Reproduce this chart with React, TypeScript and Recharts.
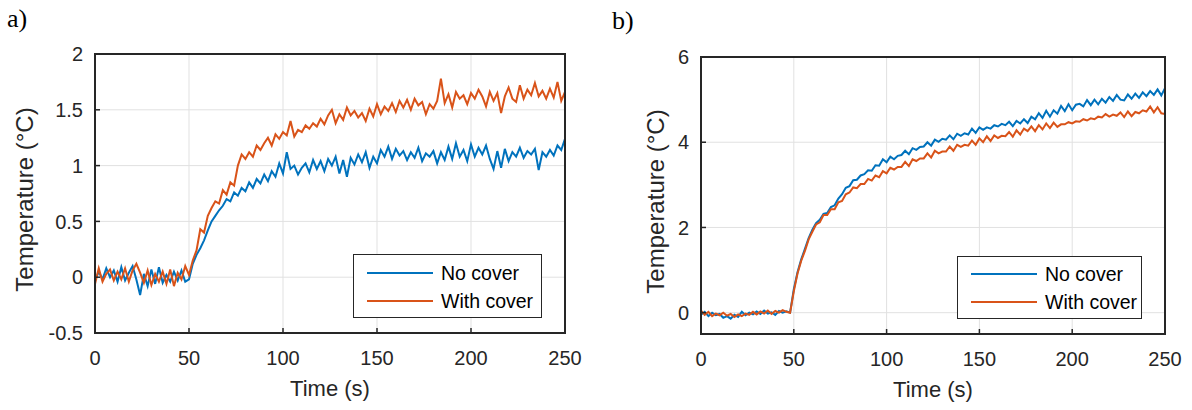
import React from "react";
import { LineChart, Line, XAxis, YAxis, CartesianGrid, Legend, Label } from "recharts";

// sample times (s)
const TIME = [
  0, 2, 4, 6, 8, 10, 12, 14, 16, 18,
  20, 22, 24, 26, 28, 30, 32, 34, 36, 38,
  40, 42, 44, 46, 48, 50, 52, 54, 56, 58,
  60, 62, 64, 66, 68, 70, 72, 74, 76, 78,
  80, 82, 84, 86, 88, 90, 92, 94, 96, 98,
  100, 102, 104, 106, 108, 110, 112, 114, 116, 118,
  120, 122, 124, 126, 128, 130, 132, 134, 136, 138,
  140, 142, 144, 146, 148, 150, 152, 154, 156, 158,
  160, 162, 164, 166, 168, 170, 172, 174, 176, 178,
  180, 182, 184, 186, 188, 190, 192, 194, 196, 198,
  200, 202, 204, 206, 208, 210, 212, 214, 216, 218,
  220, 222, 224, 226, 228, 230, 232, 234, 236, 238,
  240, 242, 244, 246, 248, 250,
];

// panel a)
const A_NO_COVER = [
  -0.03, 0.05, -0.02, 0.08, 0.0, 0.06, -0.04, 0.09, -0.03, 0.04,
  0.1, -0.02, -0.16, 0.03, -0.08, 0.07, -0.06, 0.09, -0.05, 0.02,
  -0.04, 0.05, -0.03, 0.06, -0.04, -0.02, 0.12, 0.2, 0.26, 0.33,
  0.42, 0.5, 0.55, 0.6, 0.64, 0.7, 0.68, 0.76, 0.73, 0.8,
  0.77, 0.85, 0.8, 0.88, 0.84, 0.92, 0.86, 0.95, 0.9, 1.02,
  0.93, 1.12, 0.97, 1.0, 0.92, 0.98, 1.02, 0.94, 1.05, 0.97,
  1.04, 0.95, 1.06, 1.0, 1.08, 0.93, 1.05, 0.9, 1.07, 1.01,
  1.1, 1.03, 1.12, 0.98, 1.08, 1.02, 1.14, 1.08, 1.17, 1.06,
  1.15, 1.09, 1.13, 1.05, 1.12, 1.07, 1.16, 1.04, 1.11, 1.08,
  1.13, 1.02, 1.12, 1.05, 1.17, 1.06, 1.2, 1.08, 1.14, 1.04,
  1.19, 1.08, 1.16, 1.1, 1.18, 1.06, 0.97, 1.13, 0.98, 1.15,
  1.04, 1.12, 1.08, 1.16, 1.07, 1.13, 1.1, 1.15, 0.96, 1.12,
  1.08, 1.14, 1.09, 1.18, 1.14, 1.24,
];
const A_WITH_COVER = [
  -0.06, 0.08, -0.04, 0.03, 0.07, -0.03, 0.05, -0.02, 0.08, -0.04,
  0.06, 0.12, 0.04, -0.05, 0.06, -0.07, 0.03, -0.04, 0.05, -0.06,
  0.07, -0.08, 0.04, -0.02, 0.1, 0.02, 0.15, 0.24, 0.43, 0.4,
  0.55, 0.62, 0.68, 0.66, 0.78, 0.74, 0.85, 0.82, 1.0, 1.1,
  1.06, 1.12, 1.08, 1.18, 1.14, 1.2, 1.25, 1.18, 1.28, 1.24,
  1.3, 1.27, 1.4, 1.26, 1.32, 1.3, 1.36, 1.33, 1.38, 1.35,
  1.42, 1.37, 1.45, 1.5, 1.38, 1.46, 1.41, 1.52, 1.45, 1.49,
  1.43, 1.47, 1.4, 1.51, 1.44, 1.55, 1.46, 1.53, 1.49, 1.56,
  1.48, 1.58, 1.52, 1.59, 1.5, 1.6, 1.54, 1.57, 1.46, 1.55,
  1.51, 1.58, 1.78, 1.56, 1.64, 1.52, 1.66, 1.6, 1.63, 1.55,
  1.65, 1.6, 1.68, 1.62, 1.53, 1.66, 1.58, 1.65, 1.47, 1.62,
  1.7, 1.6, 1.57, 1.72, 1.6, 1.68, 1.63, 1.74, 1.62, 1.67,
  1.6, 1.69, 1.61, 1.75, 1.58, 1.66,
];

// panel b)
const B_NO_COVER = [
  -0.05, 0.02, -0.08, 0.0, -0.06, -0.03, -0.12, -0.08, -0.14, -0.05,
  -0.1, 0.02, -0.06, 0.0, -0.04, 0.03, -0.03, 0.05, -0.02, 0.01,
  -0.05, 0.04, 0.0, 0.03, 0.0, 0.55, 0.95, 1.25, 1.5, 1.75,
  1.95, 2.1, 2.18, 2.32, 2.34, 2.48, 2.52, 2.68, 2.78, 2.93,
  2.97, 3.11, 3.12, 3.22, 3.25, 3.34, 3.33, 3.46, 3.45, 3.6,
  3.53, 3.66, 3.6, 3.68, 3.7, 3.8, 3.72, 3.86, 3.82, 3.89,
  3.9, 4.0, 3.92, 4.06, 4.01, 4.08, 4.06, 4.16, 4.07, 4.2,
  4.15, 4.21, 4.18, 4.32, 4.22, 4.35, 4.29, 4.35, 4.32, 4.4,
  4.37, 4.43, 4.4, 4.48, 4.38, 4.5, 4.44, 4.54, 4.45, 4.6,
  4.54, 4.68, 4.57, 4.74, 4.6, 4.75, 4.67, 4.85, 4.73, 4.89,
  4.75, 4.88, 4.9, 4.84, 4.99, 4.87, 5.0, 4.89, 5.02, 4.93,
  5.06, 4.97, 5.11, 5.0, 4.98, 5.12, 5.02, 5.14, 5.04, 5.17,
  5.08, 5.2, 5.11, 5.24, 5.1, 5.27,
];
const B_WITH_COVER = [
  0.05, -0.05, 0.02, -0.08, -0.02, -0.06, 0.0, -0.07, -0.03, -0.1,
  -0.04, -0.08, -0.02, -0.05, 0.02, -0.04, 0.03, -0.02, 0.05, -0.03,
  0.04, 0.0, 0.06, 0.02, 0.0, 0.5, 0.92, 1.22, 1.45, 1.72,
  1.9, 2.07, 2.12, 2.29, 2.29, 2.43, 2.43, 2.59, 2.62, 2.78,
  2.82, 2.94, 2.92, 3.02, 3.02, 3.14, 3.1, 3.22, 3.18, 3.32,
  3.27, 3.4, 3.36, 3.42, 3.42, 3.54, 3.44, 3.6, 3.56, 3.62,
  3.62, 3.74, 3.64, 3.8, 3.74, 3.78, 3.78, 3.9, 3.8, 3.94,
  3.89, 3.94, 3.92, 4.04, 3.94, 4.09, 4.0, 4.14, 4.03, 4.16,
  4.1, 4.15, 4.14, 4.24, 4.13, 4.28, 4.18, 4.32, 4.26, 4.37,
  4.26, 4.4, 4.3, 4.44, 4.33, 4.46, 4.36, 4.42, 4.42, 4.47,
  4.44, 4.49, 4.48, 4.54, 4.51, 4.56, 4.54, 4.6, 4.58, 4.66,
  4.6, 4.65, 4.62, 4.7, 4.59, 4.72, 4.61, 4.71, 4.68, 4.75,
  4.72, 4.84, 4.7, 4.82, 4.68, 4.66,
];

const X_TICKS = [0, 50, 100, 150, 200, 250];
const A_Y_TICKS = [-0.5, 0, 0.5, 1, 1.5, 2];
const B_Y_TICKS = [0, 2, 4, 6];
const SERIES = ["No cover", "With cover"];

const BLUE = "#0072BD";
const ORANGE = "#D95319";
const INK = "#262626";
const GRID = "#e1e1e1";
const FONT = '"Liberation Sans", Arial, Helvetica, sans-serif';

const W = 596;
const H = 410;
const X_AXIS_H = 64;
const TOP_AXIS_H = 10;
const Y_AXIS_W = 60;
const RIGHT_AXIS_W = 10;

const axisLine = { stroke: INK, strokeWidth: 2 };
const tickLine = { stroke: INK, strokeWidth: 1.5 };

function LegendBox({ payload, pad }: any) {
  return (
    <div
      style={{
        boxSizing: "border-box",
        width: "100%",
        height: "100%",
        border: `1px solid ${INK}`,
        background: "#fff",
        paddingTop: pad,
        fontFamily: FONT,
        fontSize: 19.5,
        color: "#000",
      }}
    >
      {(payload || []).map((p: any) => (
        <div key={p.value} style={{ display: "flex", alignItems: "center", height: 28 }}>
          <span style={{ width: 66, height: 2, background: p.color, marginLeft: 13, marginRight: 8 }} />
          <span>{p.value}</span>
        </div>
      ))}
    </div>
  );
}

function YTitle({ viewBox, gap }: any) {
  const x = viewBox.x + viewBox.width - gap;
  const y = viewBox.y + viewBox.height / 2 + 6;
  return (
    <text
      x={x}
      y={y}
      transform={`rotate(-90, ${x}, ${y})`}
      textAnchor="middle"
      fontFamily={FONT}
      fontSize={24}
      fill={INK}
    >
      Temperature (°C)
    </text>
  );
}

function Panel({ noCover, withCover, yDomain, yTicks, margin, titleGap, legendPos, legendPad }: any) {
  const data = TIME.map((t, i) => ({ t, [SERIES[0]]: noCover[i], [SERIES[1]]: withCover[i] }));
  const tick = { fontSize: 20, fill: INK, fontFamily: FONT };
  // plot box (MATLAB "box on") drawn as an overlay frame round the plot area
  const frame = {
    left: margin.left + Y_AXIS_W - 1,
    top: margin.top + TOP_AXIS_H - 1,
    width: W - margin.left - margin.right - Y_AXIS_W - RIGHT_AXIS_W + 2,
    height: H - margin.top - margin.bottom - X_AXIS_H - TOP_AXIS_H + 2,
  };
  return (
    <div style={{ position: "relative", width: W, height: H }}>
      <LineChart width={W} height={H} data={data} margin={margin}>
        <CartesianGrid stroke={GRID} strokeWidth={1} />
        <Line dataKey={SERIES[0]} name={SERIES[0]} stroke={BLUE} strokeWidth={2} dot={false} isAnimationActive={false} />
        <Line dataKey={SERIES[1]} name={SERIES[1]} stroke={ORANGE} strokeWidth={2} dot={false} isAnimationActive={false} />
        <XAxis
          dataKey="t"
          type="number"
          domain={[0, 250]}
          ticks={X_TICKS}
          allowDataOverflow
          height={X_AXIS_H}
          axisLine={axisLine}
          tickLine={tickLine}
          tickSize={-5}
          tickMargin={23}
          tick={tick}
        >
          <Label value="Time (s)" position="insideBottom" offset={1} fontSize={22} fontFamily={FONT} fill={INK} />
        </XAxis>
        <XAxis
          xAxisId="top"
          orientation="top"
          type="number"
          domain={[0, 250]}
          ticks={X_TICKS}
          allowDataOverflow
          height={TOP_AXIS_H}
          axisLine={axisLine}
          tickLine={tickLine}
          tickSize={-5}
          tick={false}
        />
        <YAxis
          type="number"
          domain={yDomain}
          ticks={yTicks}
          allowDataOverflow
          width={Y_AXIS_W}
          axisLine={axisLine}
          tickLine={tickLine}
          tickSize={-5}
          tickMargin={17}
          tick={tick}
          label={<YTitle gap={titleGap} />}
        />
        <YAxis
          yAxisId="right"
          orientation="right"
          type="number"
          domain={yDomain}
          ticks={yTicks}
          allowDataOverflow
          width={RIGHT_AXIS_W}
          axisLine={axisLine}
          tickLine={tickLine}
          tickSize={-5}
          tick={false}
        />
        <Legend
          layout="vertical"
          align="center"
          verticalAlign="middle"
          wrapperStyle={{ ...legendPos }}
          content={<LegendBox pad={legendPad} />}
        />
      </LineChart>
      <div
        style={{
          position: "absolute",
          ...frame,
          boxSizing: "border-box",
          border: `2px solid ${INK}`,
          pointerEvents: "none",
        }}
      />
    </div>
  );
}

export default function App() {
  const tag = { position: "absolute" as const, fontFamily: '"Liberation Serif", "Times New Roman", serif', fontSize: 26, lineHeight: "26px", color: "#000" };
  return (
    <div style={{ position: "absolute", left: 0, top: 0, width: 1192, height: 410, background: "#fff", overflow: "hidden" }}>
      <div style={{ ...tag, left: 7, top: 6 }}>a)</div>
      <div style={{ ...tag, left: 612, top: 8 }}>b)</div>
      <div style={{ position: "absolute", left: 0, top: 0 }}>
        <Panel
          noCover={A_NO_COVER}
          withCover={A_WITH_COVER}
          yDomain={[-0.5, 2]}
          yTicks={A_Y_TICKS}
          margin={{ top: 44, right: 21, bottom: 13, left: 35 }}
          titleGap={62}
          legendPos={{ left: 353, top: 254, width: 189, height: 64 }}
          legendPad={4}
        />
      </div>
      <div style={{ position: "absolute", left: 596, top: 0 }}>
        <Panel
          noCover={B_NO_COVER}
          withCover={B_WITH_COVER}
          yDomain={[-0.5, 6]}
          yTicks={B_Y_TICKS}
          margin={{ top: 47, right: 17, bottom: 12, left: 45 }}
          titleGap={37}
          legendPos={{ left: 361, top: 256, width: 185, height: 63 }}
          legendPad={3}
        />
      </div>
    </div>
  );
}
